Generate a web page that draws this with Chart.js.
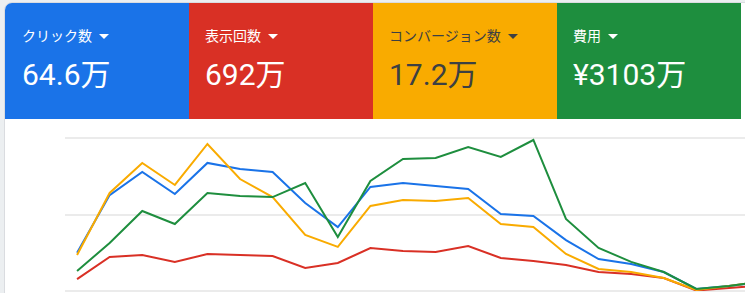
<!DOCTYPE html>
<html lang="ja">
<head>
<meta charset="UTF-8">
<title>キャンペーン概要</title>
<style>
    body { margin: 0; background: #eceff1; width: 745px; height: 293px; overflow: hidden; position: relative; font-family: Roboto, "Noto Sans CJK JP", sans-serif; }
    .panel { position: absolute; left: 4px; top: 2px; width: 900px; height: 400px; background: #fff; border: 1px solid #dadce0; border-radius: 8px; overflow: hidden; }
    .cards { display: flex; height: 116px; }
    .card { width: 184px; flex: none; box-sizing: border-box; padding: 23px 0 0 16px; color: #fff; }
    .card.blue { background: #1a73e8; padding-left: 17px; }
    .card.red { background: #d93025; }
    .card.yellow { background: #f9ab00; color: #3c4043; }
    .card.green { background: #1e8e3e; }
    .lbl { font-size: 14px; line-height: 20px; }
    .lbl .arrow { display: inline-block; width: 0; height: 0; border-left: 5px solid transparent; border-right: 5px solid transparent; border-top: 5px solid currentColor; margin-left: 7px; vertical-align: middle; position: relative; top: -1px; }
    .val { font-size: 30px; line-height: 36px; margin-top: 11px; }
    #wrap { position: absolute; left: 0; top: 119px; width: 800px; height: 180px; }
</style>
</head>
<body>
<div class="panel">
    <div class="cards">
        <div class="card blue"><div class="lbl">クリック数<span class="arrow"></span></div><div class="val">64.6万</div></div>
        <div class="card red"><div class="lbl">表示回数<span class="arrow"></span></div><div class="val">692万</div></div>
        <div class="card yellow"><div class="lbl">コンバージョン数<span class="arrow"></span></div><div class="val">17.2万</div></div>
        <div class="card green"><div class="lbl">費用<span class="arrow"></span></div><div class="val">¥3103万</div></div>
    </div>
</div>
<div id="wrap"><canvas id="myChart" width="800" height="180"></canvas></div>

<script src="https://cdn.jsdelivr.net/npm/chart.js"></script>
<script>
// each metric scaled to its own axis, shown here as 0-100 of the chart height
const days = [1,2,3,4,5,6,7,8,9,10,11,12,13,14,15,16,17,18,19,20,21,22]
const clicks      = [25.0, 62.7, 77.8, 63.4, 83.7, 79.7, 77.8, 57.5, 41.8, 68.0, 70.6, 68.6, 66.7, 50.3, 49.0, 33.3, 20.9, 17.6, 12.4, 1.3, 3.3, 5.9]
const impressions = [7.8, 22.2, 23.5, 19.0, 24.2, 23.5, 22.9, 15.0, 18.3, 28.1, 26.1, 25.5, 29.4, 21.6, 19.6, 17.0, 12.4, 11.1, 8.5, 0.3, 2.0, 3.6]
const conversions = [23.5, 64.1, 83.7, 69.3, 96.1, 73.2, 61.4, 36.6, 28.8, 55.6, 59.5, 58.8, 60.8, 43.8, 41.8, 24.2, 14.4, 12.4, 8.5, 0.7, 3.3, 6.2]
const cost        = [13.1, 31.4, 52.3, 43.8, 64.1, 62.1, 61.4, 70.6, 35.3, 71.9, 86.3, 86.9, 94.1, 87.6, 98.7, 47.1, 28.1, 19.0, 12.4, 1.3, 3.3, 6.2]
const yTicks = [0, 50, 100]

const pts = arr => arr.map((v, i) => ({ x: i, y: v }))

function line(data, color, order) {
    return { data: pts(data), borderColor: color, borderWidth: 2, pointRadius: 0, tension: 0, order: order, borderJoinStyle: 'miter' }
}

const ctx = document.getElementById('myChart')

let chart = new Chart(ctx, {
    type: 'line',
    data: {
        datasets: [
            line(cost, '#1e8e3e', 0),
            line(conversions, '#f9ab00', 1),
            line(clicks, '#1a73e8', 2),
            line(impressions, '#d93025', 3)
        ]
    },
    options: {
        responsive: false,
        animation: false,
        layout: { padding: { left: 65, top: 19, right: 0, bottom: 8 } },
        scales: {
            x: {
                type: 'linear',
                min: -0.37,
                max: 22.18,
                display: false
            },
            y: {
                min: yTicks[0],
                max: yTicks[yTicks.length - 1],
                afterBuildTicks: axis => { axis.ticks = yTicks.map(v => ({ value: v })) },
                ticks: { display: false },
                border: { display: false },
                grid: { color: '#ebebeb', lineWidth: 2, drawTicks: false }
            }
        },
        plugins: {
            legend: { display: false },
            tooltip: { enabled: false }
        }
    }
})
</script>
</body>
</html>
